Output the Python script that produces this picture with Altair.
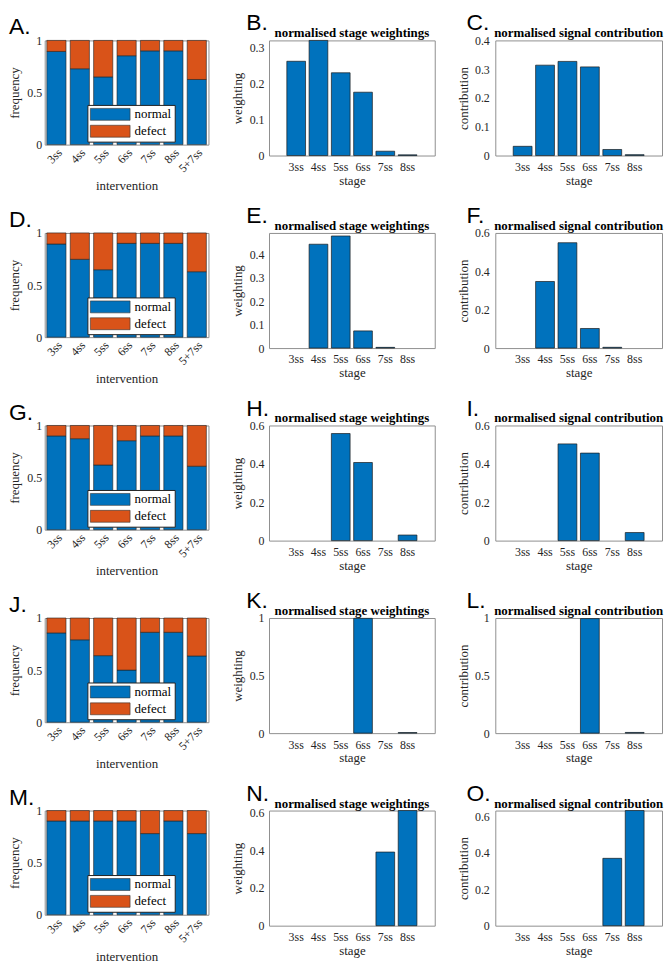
import altair as alt
import pandas as pd

SERIF = "Liberation Serif"
SANS = "Liberation Sans"
BLUE = "#0072BD"
ORANGE = "#D95319"
FRAME = "#8f8f8f"
TXT = "#262626"

interventions = ["3ss", "4ss", "5ss", "6ss", "7ss", "8ss", "5+7ss"]
stages = ["3ss", "4ss", "5ss", "6ss", "7ss", "8ss"]
outcomes = ["normal", "defect"]

# fraction of "normal" outcome per intervention (defect = remainder)
normal_A = [0.894, 0.728, 0.650, 0.853, 0.900, 0.900, 0.625]
normal_D = [0.894, 0.747, 0.647, 0.900, 0.900, 0.900, 0.628]
normal_G = [0.900, 0.873, 0.621, 0.854, 0.900, 0.900, 0.609]
normal_J = [0.857, 0.791, 0.639, 0.500, 0.863, 0.863, 0.636]
normal_M = [0.900, 0.900, 0.900, 0.900, 0.779, 0.900, 0.779]

weight_B = [0.262, 0.320, 0.230, 0.176, 0.012, 0.002]
contrib_C = [0.032, 0.314, 0.327, 0.308, 0.021, 0.003]
weight_E = [0.0, 0.442, 0.477, 0.073, 0.003, 0.0]
contrib_F = [0.0, 0.347, 0.549, 0.102, 0.004, 0.0]
weight_H = [0.0, 0.0, 0.558, 0.407, 0.0, 0.029]
contrib_I = [0.0, 0.0, 0.504, 0.456, 0.0, 0.042]
weight_K = [0.0, 0.0, 0.0, 0.997, 0.0, 0.005]
contrib_L = [0.0, 0.0, 0.0, 0.995, 0.0, 0.006]
weight_N = [0.0, 0.0, 0.0, 0.0, 0.390, 0.610]
contrib_O = [0.0, 0.0, 0.0, 0.0, 0.369, 0.631]

ymax_B, ticks_B = 0.32, [0, 0.1, 0.2, 0.3]
ymax_C, ticks_C = 0.4, [0, 0.1, 0.2, 0.3, 0.4]
ymax_E, ticks_E = 0.49, [0, 0.1, 0.2, 0.3, 0.4]
ymax_F, ticks_F = 0.6, [0, 0.2, 0.4, 0.6]
ymax_H, ticks_H = 0.6, [0, 0.2, 0.4, 0.6]
ymax_I, ticks_I = 0.6, [0, 0.2, 0.4, 0.6]
ymax_K, ticks_K = 1.0, [0, 0.5, 1]
ymax_L, ticks_L = 1.0, [0, 0.5, 1]
ymax_N, ticks_N = 0.61, [0, 0.2, 0.4, 0.6]
ymax_O, ticks_O = 0.631, [0, 0.2, 0.4, 0.6]

W_L, H_L = 165, 105
W_M, H_M = 167, 116
W_R, H_R = 168, 116
PITCH = 194

RECT = "M-3.333,-1L3.333,-1L3.333,1L-3.333,1Z"


def text_layer(txt, dx, dy, font, size, weight, align):
    return alt.Chart(pd.DataFrame({"t": [txt]})).mark_text(
        font=font, fontSize=size, fontWeight=weight, align=align,
        baseline="alphabetic", color="black"
    ).encode(x=alt.value(dx), y=alt.value(dy), text="t:N")


def freq_chart(normal, letter):
    df = pd.DataFrame({"intervention": interventions, "normal": normal})
    bars = (
        alt.Chart(df)
        .transform_calculate(defect="1 - datum.normal")
        .transform_fold(outcomes, as_=["type", "value"])
        .transform_calculate(ord="datum.type === 'normal' ? 0 : 1")
        .mark_bar(stroke="#222222", strokeWidth=0.6)
        .encode(
            x=alt.X(
                "intervention:N",
                sort=interventions,
                scale=alt.Scale(domain=interventions, paddingInner=0.18, paddingOuter=0.09),
                axis=alt.Axis(title="intervention", labelAngle=-45, labelPadding=2, titlePadding=6),
            ),
            y=alt.Y(
                "value:Q",
                stack="zero",
                scale=alt.Scale(domain=[0, 1], nice=False),
                axis=alt.Axis(title="frequency", values=[0, 0.5, 1], format="~g",
                              labelPadding=3, titlePadding=5),
            ),
            color=alt.Color(
                "type:N",
                scale=alt.Scale(domain=outcomes, range=[BLUE, ORANGE]),
                legend=alt.Legend(
                    title=None, orient="none", legendX=43, legendY=65,
                    symbolType=RECT, symbolSize=144, symbolOffset=13.5,
                    symbolStrokeColor="#333333", symbolStrokeWidth=0.6, symbolOpacity=1,
                    labelOffset=18, labelFont=SERIF, labelFontSize=13, labelColor="black",
                    padding=3, rowPadding=2, strokeColor="#222222", fillColor="white",
                ),
            ),
            order=alt.Order("ord:Q", sort="ascending"),
        )
    )
    letter_mark = text_layer(letter, -36, -6, SANS, 23, "normal", "left")
    return alt.layer(bars, letter_mark).properties(width=W_L, height=H_L)


def stage_chart(values, ymax, ticks, title, ytitle, letter, w, h, lpad, tpad, ldx):
    df = pd.DataFrame({"stage": stages, "v": values})
    bars = (
        alt.Chart(df)
        .transform_filter("datum.v > 0")
        .mark_bar(color=BLUE, stroke="#1a1a1a", strokeWidth=0.7)
        .encode(
            x=alt.X(
                "stage:N",
                sort=stages,
                scale=alt.Scale(domain=stages, paddingInner=0.16, paddingOuter=0.8),
                axis=alt.Axis(title="stage", labelAngle=0, labelPadding=6, titlePadding=2),
            ),
            y=alt.Y(
                "v:Q",
                scale=alt.Scale(domain=[0, ymax], nice=False),
                axis=alt.Axis(title=ytitle, values=ticks, format="~g",
                              labelPadding=lpad, titlePadding=tpad),
            ),
        )
    )
    letter_mark = text_layer(letter, ldx, -10, SANS, 23, "normal", "left")
    title_mark = text_layer(title, w / 2, -3, SERIF, 13, "bold", "center")
    return alt.layer(bars, letter_mark, title_mark).properties(width=w, height=h)


T_W = "normalised stage weightings"
T_C = "normalised signal contribution"

panels = [
    freq_chart(normal_A, "A."),
    stage_chart(weight_B, ymax_B, ticks_B, T_W, "weighting", "B.", W_M, H_M, 5, 5, -23),
    stage_chart(contrib_C, ymax_C, ticks_C, T_C, "contribution", "C.", W_R, H_R, 6, 4, -29),
    freq_chart(normal_D, "D."),
    stage_chart(weight_E, ymax_E, ticks_E, T_W, "weighting", "E.", W_M, H_M, 5, 5, -23),
    stage_chart(contrib_F, ymax_F, ticks_F, T_C, "contribution", "F.", W_R, H_R, 6, 4, -29),
    freq_chart(normal_G, "G."),
    stage_chart(weight_H, ymax_H, ticks_H, T_W, "weighting", "H.", W_M, H_M, 5, 5, -23),
    stage_chart(contrib_I, ymax_I, ticks_I, T_C, "contribution", "I.", W_R, H_R, 6, 4, -29),
    freq_chart(normal_J, "J."),
    stage_chart(weight_K, ymax_K, ticks_K, T_W, "weighting", "K.", W_M, H_M, 5, 5, -23),
    stage_chart(contrib_L, ymax_L, ticks_L, T_C, "contribution", "L.", W_R, H_R, 6, 4, -29),
    freq_chart(normal_M, "M."),
    stage_chart(weight_N, ymax_N, ticks_N, T_W, "weighting", "N.", W_M, H_M, 5, 5, -23),
    stage_chart(contrib_O, ymax_O, ticks_O, T_C, "contribution", "O.", W_R, H_R, 6, 4, -29),
]

chart = (
    alt.concat(
        *panels,
        columns=3,
        spacing={"row": PITCH - H_M, "column": 61},
        bounds="flush",
        align="each",
    )
    .resolve_scale(color="independent")
    .properties(padding=0, background="white")
    .configure_axis(
        labelFont=SERIF, labelFontSize=12, labelColor=TXT,
        titleFont=SERIF, titleFontSize=13, titleFontWeight="normal", titleColor=TXT,
        domain=False, ticks=False, grid=False,
    )
    .configure_view(stroke=FRAME, strokeWidth=1)
)

chart.save("out.html", embed_options={"renderer": "svg", "actions": False})
